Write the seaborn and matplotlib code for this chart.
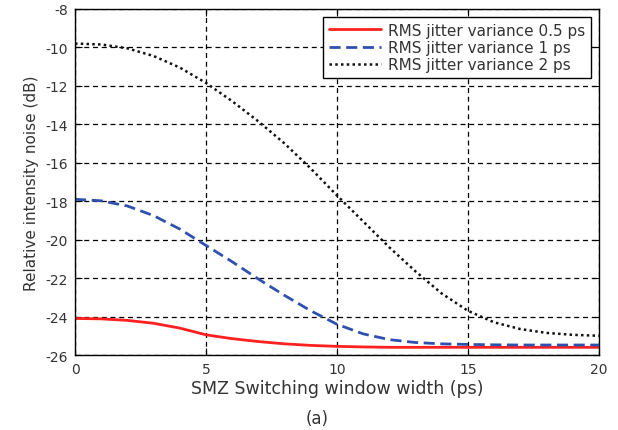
import numpy as np
import pandas as pd
import seaborn as sns
import matplotlib
matplotlib.use("Agg")
import matplotlib.pyplot as plt

# window width (ps)
anchura = [0, 1, 2, 3, 4, 5, 6, 7, 8, 9, 10, 11, 12, 13, 14, 15, 16, 17, 18, 19, 20]

# relative intensity noise (dB) for each jitter variance
rin_05 = [-24.10, -24.12, -24.20, -24.35, -24.60, -24.95, -25.15, -25.30, -25.42, -25.50,
          -25.55, -25.58, -25.60, -25.60, -25.60, -25.60, -25.60, -25.60, -25.60, -25.60, -25.60]
rin_1 = [-17.90, -17.98, -18.25, -18.75, -19.45, -20.30, -21.15, -22.05, -22.90, -23.70,
         -24.40, -24.90, -25.20, -25.35, -25.42, -25.45, -25.47, -25.48, -25.48, -25.48, -25.48]
rin_2 = [-9.80, -9.85, -10.05, -10.45, -11.05, -11.85, -12.80, -13.85, -15.00, -16.30,
         -17.70, -19.05, -20.40, -21.65, -22.80, -23.70, -24.30, -24.65, -24.85, -24.95, -25.00]

etiquetas = ['RMS jitter variance 0.5 ps', 'RMS jitter variance 1 ps', 'RMS jitter variance 2 ps']
colores = ['#ff2020', '#3050b0', '#111111']
estilos = ['-', (0, (4, 2)), (0, (1, 1.3))]
anchos = [2, 2, 1.8]

sns.set_style("white")
plt.rcParams['font.family'] = ['DejaVu Sans']
plt.rcParams['axes.unicode_minus'] = False
plt.rcParams['text.color'] = '#333333'
plt.rcParams['axes.labelcolor'] = '#333333'

fig = plt.figure(figsize=(6.18, 4.31), dpi=100)
ax = fig.add_axes([0.1214, 0.174, 0.8476, 0.803])

for datos, etiqueta, color, estilo, ancho in zip([rin_05, rin_1, rin_2], etiquetas, colores, estilos, anchos):
    df = pd.DataFrame({'x': anchura, 'y': datos})
    sns.lineplot(data=df, x='x', y='y', ax=ax, color=color, linewidth=ancho,
                 linestyle=estilo, label=etiqueta)

ax.set_xlim(0, 20)
ax.set_ylim(-26, -8)
ax.set_xticks([0, 5, 10, 15, 20])
ax.set_yticks(np.arange(-26, -7, 2))
ax.grid(True, color='black', linestyle=(0, (4, 3)), linewidth=0.9)
ax.tick_params(direction='in', length=5, colors='black', labelcolor='#333333',
               labelsize=10, top=True, right=True, bottom=True, left=True, pad=5)
for s in ax.spines.values():
    s.set_color('black')
    s.set_linewidth(1.0)

ax.set_xlabel('SMZ Switching window width (ps)', fontsize=12.5, labelpad=2)
ax.set_ylabel('Relative intensity noise (dB)', fontsize=11, labelpad=5)

leg = ax.legend(loc='upper right', fontsize=11, frameon=True, fancybox=False,
                edgecolor='black', handlelength=3.4, borderaxespad=0.5,
                labelspacing=0.15, handletextpad=0.45, borderpad=0.4)
leg.get_frame().set_linewidth(1.0)
leg.get_frame().set_alpha(1)

fig.text(0.513, 0.028, '(a)', fontsize=12, ha='center', va='center', color='#333333')

plt.savefig('out.png', dpi=100)
